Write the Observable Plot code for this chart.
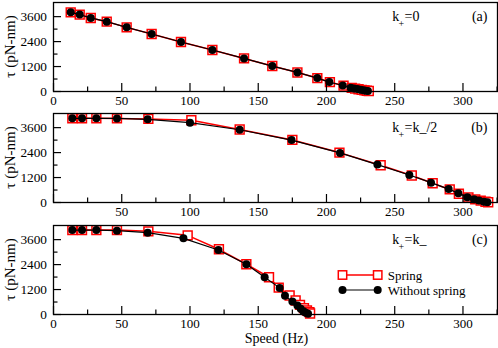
<!DOCTYPE html>
<html><head><meta charset="utf-8">
<script src="https://cdn.jsdelivr.net/npm/d3@7"></script>
<script src="https://cdn.jsdelivr.net/npm/@observablehq/plot@0.6"></script>
<style>
body{margin:0;background:#fff;}
#wrap{position:relative;width:498px;height:348px;background:#fff;}
#wrap svg{position:absolute;left:0;}
</style></head><body><div id="wrap"></div>
<script>
// Panel (a): k+ = 0
const speedA_free = [12.6, 19.2, 27.3, 39, 53.6, 71.9, 93.4, 116.4, 139.6, 160.3, 178.7, 193.3, 202.1, 211.9, 217.7, 220.1, 222.6, 225, 227, 228.7, 230.4];
const tauA_free   = [3807, 3697, 3537, 3359, 3084, 2766, 2381, 1995, 1590, 1224, 916, 646, 453, 289, 178, 145, 116, 82, 60, 40, 25];
const speedA_spring = [12.6, 19.2, 27.3, 39, 53.6, 71.9, 93.4, 116.4, 139.6, 160.3, 178.7, 193.3, 202.5, 212.5, 218.5, 221, 223.5, 225.8, 227.8, 229.5, 231];
const tauA_spring   = [3807, 3697, 3537, 3359, 3084, 2766, 2381, 1995, 1590, 1224, 916, 646, 450, 285, 175, 140, 110, 78, 56, 36, 22];
// Panel (b): k+ = k-/2
const speedB_free = [13.8, 20.9, 31.4, 46.5, 69, 100, 136.4, 174.4, 209.9, 237.3, 260.7, 276.6, 289.5, 296.6, 303.2, 308.1, 311.7, 315.4, 317.9];
const tauB_free   = [4050, 4050, 4050, 4045, 4000, 3837, 3500, 3000, 2385, 1824, 1321, 953, 644, 450, 256, 160, 97, 40, 15];
const speedB_spring = [13.8, 20.9, 31.4, 46.5, 69.5, 101, 136.4, 175, 209.5, 239.7, 262.5, 277.8, 290.3, 297, 304, 309, 313, 316.5, 318.5];
const tauB_spring   = [4050, 4050, 4050, 4045, 4020, 3953, 3510, 3010, 2400, 1790, 1300, 924, 628, 420, 240, 150, 90, 35, 12];
// Panel (c): k+ = k-
const speedC_free = [13.8, 20.9, 31.4, 46.5, 69, 95.2, 120.8, 141.3, 154.7, 165.7, 169.6, 175, 178.7, 181.1, 183.1, 184.8, 186.5];
const tauC_free   = [4060, 4060, 4060, 4032, 3936, 3664, 3104, 2416, 1792, 1280, 896, 624, 432, 272, 160, 80, 32];
const speedC_spring = [13.8, 20.9, 31.4, 46.5, 69.5, 98.3, 121.2, 141.3, 157.9, 165, 173, 177.4, 180.6, 183.5, 185.7, 187.5, 188];
const tauC_spring   = [4060, 4060, 4060, 4060, 3999, 3808, 3136, 2416, 1792, 1290, 912, 672, 465, 304, 192, 112, 50];

const xMajor = [0, 50, 100, 150, 200, 250, 300];
const xMinor = [25, 75, 125, 175, 225, 275, 325];
const xLabelsA = [0, 50, 100, 150, 200, 250, 300];
const xLabelsB = [50, 100, 150, 200, 250, 300];
const yMajor = [0, 1200, 2400, 3600];
const yMinor = [600, 1800, 3000];
const panelTags = ["(a)", "(b)", "(c)"];
const kRight = ["=0", "=k_/2", "=k_"];
const seriesNames = ["Spring", "Without spring"];
const yTitle = "τ (pN-nm)";
const xTitle = "Speed (Hz)";

const FONT = "'Liberation Serif', 'Times New Roman', serif";
const wrap = document.getElementById("wrap");
const zip = (xs, ys) => xs.map((x, i) => ({speed: x, tau: ys[i]}));

function panel(i, sx, sy, fx, fy, xLabels, top, height, mb, last) {
  const spring = zip(sx, sy), free = zip(fx, fy);
  const marks = [
    Plot.line(spring, {x: "speed", y: "tau", stroke: "#ff0000", strokeWidth: 1.5}),
    Plot.dot(spring, {x: "speed", y: "tau", symbol: "square", r: 5, stroke: "#ff0000", fill: "white", strokeWidth: 1.5}),
    Plot.line(free, {x: "speed", y: "tau", stroke: "black", strokeWidth: 1.2}),
    Plot.dot(free, {x: "speed", y: "tau", r: 4, fill: "black"}),
    Plot.axisX(xMajor, {tickSize: -8, tickFormat: () => "", strokeWidth: 1.2, label: null}),
    Plot.axisX(xMinor, {tickSize: -4.5, tickFormat: () => "", strokeWidth: 1.2, label: null}),
    Plot.axisX(xLabels, {tickSize: 0, tickPadding: 4, fontSize: 13, tickFormat: d3.format("d"), label: null}),
    Plot.axisY(yMajor, {tickSize: -8, tickFormat: () => "", strokeWidth: 1.2, label: null}),
    Plot.axisY(yMinor, {tickSize: -4.5, tickFormat: () => "", strokeWidth: 1.2, label: null}),
    Plot.axisY(yMajor, {tickSize: 0, tickPadding: 6.5, fontSize: 13.3, tickFormat: d3.format("d"), label: null}),
    Plot.frame({stroke: "black", strokeWidth: 1.3}),
    Plot.text(["k"], {frameAnchor: "top-left", dx: 338.7, dy: 18, textAnchor: "start", lineAnchor: "bottom", fontSize: 14}),
    Plot.text(["+"], {frameAnchor: "top-left", dx: 345, dy: 24, textAnchor: "start", lineAnchor: "bottom", fontSize: 10}),
    Plot.text([kRight[i]], {frameAnchor: "top-left", dx: 351, dy: 18, textAnchor: "start", lineAnchor: "bottom", fontSize: 14}),
    Plot.text([panelTags[i]], {frameAnchor: "top-right", dx: -10, dy: 18, textAnchor: "end", lineAnchor: "bottom", fontSize: 14})
  ];
  if (last) marks.push(Plot.text([xTitle], {frameAnchor: "bottom", dx: 1, dy: 28, lineAnchor: "bottom", fontSize: 14}));
  const svg = Plot.plot({
    width: 498, height, marginTop: 2, marginLeft: 53, marginRight: 1, marginBottom: mb,
    x: {domain: [0, 325.3], label: null},
    y: {domain: [0, 4280], label: null},
    style: {fontFamily: FONT, fontSize: "13px", color: "black", background: "transparent"},
    marks
  });
  svg.style.top = top + "px";
  svg.setAttribute("font-family", FONT);
  // rotated y-axis title, centred on the panel's frame
  const yMid = 2 + (height - 2 - mb) / 2;
  d3.select(svg).append("text")
    .attr("transform", `translate(10,${yMid}) rotate(-90)`)
    .attr("dy", "0.35em").attr("text-anchor", "middle")
    .attr("font-family", FONT).attr("font-size", 15).attr("fill", "black")
    .text(yTitle);
  wrap.appendChild(svg);
  return svg;
}

panel(0, speedA_spring, tauA_spring, speedA_free, tauA_free, xLabelsA, 0, 111, 20, false);
panel(1, speedB_spring, tauB_spring, speedB_free, tauB_free, xLabelsB, 111, 111, 20, false);
const svgC = panel(2, speedC_spring, tauC_spring, speedC_free, tauC_free, xLabelsA, 223, 125, 34, true);

// Legend inside panel (c)
const g = d3.select(svgC).append("g").attr("font-family", FONT).attr("font-size", 13).attr("text-anchor", "start");
const legendRows = [
  {name: seriesNames[0], y: 52, sym: "square"},
  {name: seriesNames[1], y: 67, sym: "circle"}
];
for (const r of legendRows) {
  g.append("line").attr("x1", 342.5).attr("x2", 377.7).attr("y1", r.y).attr("y2", r.y)
    .attr("stroke", r.sym === "square" ? "#ff0000" : "#555").attr("stroke-width", 1.3);
  for (const cx of [342.5, 377.7]) {
    if (r.sym === "square") g.append("rect").attr("x", cx - 4.2).attr("y", r.y - 4.2).attr("width", 8.4).attr("height", 8.4)
      .attr("fill", "white").attr("stroke", "#ff0000").attr("stroke-width", 1.5);
    else g.append("circle").attr("cx", cx).attr("cy", r.y).attr("r", 4).attr("fill", "black");
  }
  g.append("text").attr("x", 387.7).attr("y", r.y + 4.5).attr("fill", "black").text(r.name);
}
</script></body></html>
